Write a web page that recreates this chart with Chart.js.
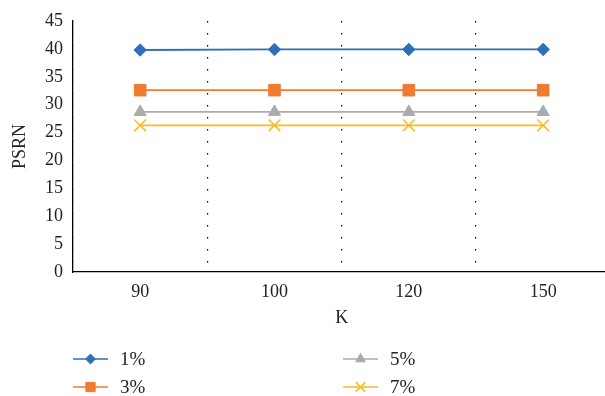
<!DOCTYPE html>
<html>
<head>
<meta charset="utf-8">
<script src="https://cdn.jsdelivr.net/npm/chart.js@4/dist/chart.umd.min.js"></script>
<style>
  html, body { margin: 0; padding: 0; background: #fff; width: 605px; height: 396px; overflow: hidden; }
  canvas { display: block; }
</style>
</head>
<body>
<canvas id="chart" width="620" height="396"></canvas>
<script>
// K values on the horizontal axis
const kValues = ['90', '100', '120', '150'];

// PSRN for each noise level
const psrn1 = [39.8, 39.9, 39.9, 39.9];
const psrn3 = [32.6, 32.6, 32.6, 32.6];
const psrn5 = [28.7, 28.7, 28.7, 28.7];
const psrn7 = [26.3, 26.3, 26.3, 26.3];

const seriesLabels = ['1%', '3%', '5%', '7%'];

// Vertical scale
const yMin = 0, yMax = 45, yStep = 5;

const FONT = '"Liberation Serif", "Times New Roman", serif';
const TEXT = '#222222';

function series(label, data, color, style, radius, bw) {
  return {
    label, data,
    borderColor: color,
    backgroundColor: color,
    borderWidth: 1.8,
    pointStyle: style,
    pointRadius: radius,
    pointHoverRadius: radius,
    pointBackgroundColor: color,
    pointBorderColor: color,
    pointBorderWidth: bw,
    tension: 0
  };
}

// Legend drawn as short line + marker samples, two columns
const lineLegend = {
  id: 'lineLegend',
  afterDraw(chart) {
    const ctx = chart.ctx;
    const left = chart.chartArea.left;
    chart.data.datasets.forEach((ds, i) => {
      const col = Math.floor(i / 2), row = i % 2;
      const x = left + col * 270;
      const y = 359 + row * 28;
      ctx.save();
      ctx.strokeStyle = ds.borderColor;
      ctx.lineWidth = 1.5;
      ctx.beginPath();
      ctx.moveTo(x, y);
      ctx.lineTo(x + 35, y);
      ctx.stroke();
      ctx.fillStyle = ds.pointBackgroundColor;
      ctx.strokeStyle = ds.pointBorderColor;
      ctx.lineWidth = ds.pointBorderWidth;
      Chart.helpers.drawPoint(ctx, {
        pointStyle: ds.pointStyle,
        radius: ds.pointRadius * 0.8,
        borderWidth: ds.pointBorderWidth,
        rotation: 0
      }, x + 17.5, y);
      ctx.fillStyle = TEXT;
      ctx.font = '19px ' + FONT;
      ctx.textAlign = 'left';
      ctx.textBaseline = 'middle';
      ctx.fillText(ds.label, x + 47, y + 1);
      ctx.restore();
    });
  }
};

new Chart(document.getElementById('chart'), {
  type: 'line',
  data: {
    labels: kValues,
    datasets: [
      series(seriesLabels[0], psrn1, '#2D6FBA', 'rectRot', 6.2, 1),
      series(seriesLabels[1], psrn3, '#F07B2E', 'rect', 8.2, 1),
      series(seriesLabels[2], psrn5, '#ABABAD', 'triangle', 7, 1),
      series(seriesLabels[3], psrn7, '#FBBA1E', 'crossRot', 8.2, 1.5)
    ]
  },
  options: {
    responsive: false,
    animation: false,
    devicePixelRatio: 1,
    layout: { padding: { left: 0, right: 9, top: 21, bottom: 63 } },
    plugins: {
      legend: { display: false },
      tooltip: { enabled: false }
    },
    scales: {
      x: {
        type: 'category',
        offset: true,
        grid: {
          display: true,
          offset: true,
          drawTicks: false,
          color: '#000',
          lineWidth: 1.2
        },
        // sparse dotted lines at the category boundaries
        border: { display: true, color: '#000', width: 1.3, dash: [1.5, 10.5] },
        ticks: { color: TEXT, font: { family: FONT, size: 18 }, padding: 9, maxRotation: 0 },
        title: { display: true, text: 'K', color: TEXT, font: { family: FONT, size: 18 }, padding: { top: 4, bottom: 4 } },
        afterFit(scale) { scale.height = 61; }
      },
      y: {
        min: yMin,
        max: yMax,
        grid: { display: false, drawTicks: false },
        border: { display: true, color: '#000', width: 1.3 },
        ticks: { stepSize: yStep, color: TEXT, font: { family: FONT, size: 18 }, padding: 10 },
        title: { display: true, text: 'PSRN', color: TEXT, font: { family: FONT, size: 18 }, padding: { top: 9, bottom: 4 } },
        afterFit(scale) { scale.width = 73; }
      }
    }
  },
  plugins: [lineLegend]
});
</script>
</body>
</html>
